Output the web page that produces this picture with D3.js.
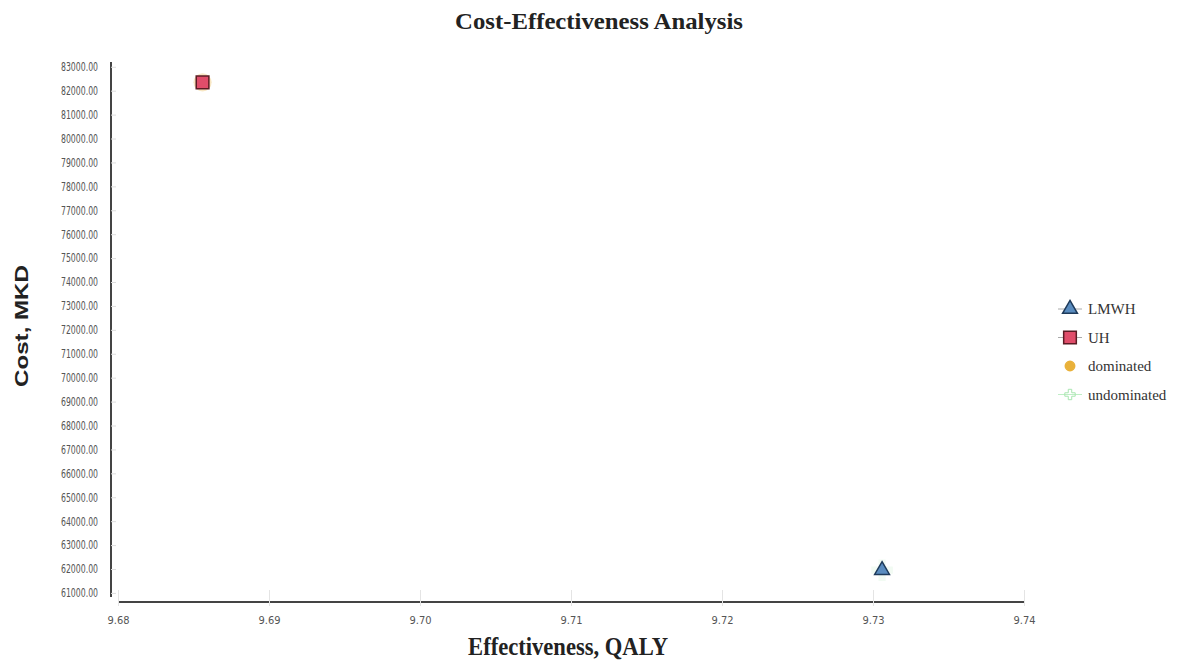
<!DOCTYPE html>
<html lang="en">
<head>
    <meta charset="UTF-8">
    <title>Cost-Effectiveness Analysis</title>
    <style>
        body { margin: 0; background: #fff; }
        .tick text { font-family: "Liberation Sans Narrow", "DejaVu Sans Condensed", "Liberation Sans", sans-serif; }
    </style>
</head>
<body>
    <div id="chart"></div>
    <script src="https://cdnjs.cloudflare.com/ajax/libs/d3/7.8.5/d3.min.js"></script>
    <script>
        // strategies
        const strategies = ["LMWH", "UH"];
        const effectiveness = [9.7306, 9.6856];
        const cost = [61950, 82350];
        // frontier status of each strategy
        const status = ["undominated", "dominated"];
        const legendItems = ["LMWH", "UH", "dominated", "undominated"];
        const xTicks = [9.68, 9.69, 9.70, 9.71, 9.72, 9.73, 9.74];
        const yTicks = d3.range(61000, 83001, 1000);

        const width = 1181, height = 666;
        const svg = d3.select('#chart')
            .append('svg')
            .attr('width', width)
            .attr('height', height);

        const x = d3.scaleLinear().domain([9.68, 9.74]).range([118, 1024]);
        const y = d3.scaleLinear().domain([60620, 83200]).range([602, 62]);

        // titles are squeezed/stretched to the width they have in the source picture
        function titleText(px, py, rot, len, size, family, label) {
            const g = svg.append('g').attr('transform', `translate(${px},${py}) rotate(${rot})`);
            const t = g.append('text')
                .attr('font-family', family)
                .attr('font-weight', 'bold')
                .attr('font-size', size)
                .attr('fill', '#222')
                .attr('text-anchor', 'middle')
                .text(label);
            const w = t.node().getComputedTextLength();
            t.attr('transform', `scale(${len / w},1)`);
        }

        titleText(599, 29, 0, 288, 24, 'Liberation Serif, serif', 'Cost-Effectiveness Analysis');

        // y axis
        const yAxis = svg.append('g')
            .attr('transform', 'translate(111,0)')
            .call(d3.axisRight(y).tickValues(yTicks).tickSize(5).tickFormat(d3.format('.2f')));
        yAxis.select('.domain').attr('stroke', '#444').attr('stroke-width', 2)
            .attr('d', `M0,${y.range()[1]}V${y.range()[0] - 5}`);
        yAxis.selectAll('.tick line').attr('stroke', '#ddd');
        yAxis.selectAll('.tick text')
            .attr('x', -13).attr('text-anchor', 'end')
            .attr('font-size', 12).attr('fill', '#555')
            .attr('textLength', 37).attr('lengthAdjust', 'spacingAndGlyphs');

        // x axis
        const xAxis = svg.append('g')
            .attr('transform', 'translate(0,602)')
            .call(d3.axisBottom(x).tickValues(xTicks).tickSize(6).tickFormat(d3.format('.2f')));
        xAxis.select('.domain').attr('stroke', '#444').attr('stroke-width', 2)
            .attr('d', `M${x.range()[0]},0H${x.range()[1]}`);
        xAxis.selectAll('.tick line').attr('stroke', '#e4e4e4').attr('y1', -12).attr('y2', 4);
        xAxis.selectAll('.tick text')
            .attr('y', 14).attr('font-size', 11).attr('fill', '#555');

        // axis titles
        titleText(568, 655, 0, 200, 25, 'Liberation Serif, serif', 'Effectiveness, QALY');
        titleText(28, 326, -90, 122, 19, 'Liberation Sans, sans-serif', 'Cost, MKD');

        const symbols = {
            LMWH: d3.symbol().type(d3.symbolTriangle).size(95),
            UH: d3.symbol().type(d3.symbolSquare).size(160),
            dominated: d3.symbol().type(d3.symbolCircle).size(70),
            undominated: d3.symbol().type(d3.symbolCross).size(60)
        };
        const fills = { LMWH: '#5a8cbf', UH: '#e04d6a', dominated: '#e9b13a', undominated: '#a8e6b0' };
        const strokes = { LMWH: '#1e3a5a', UH: '#5a1c24', dominated: '#e9b13a', undominated: '#a8e6b0' };

        const points = strategies.map((s, i) => ({ name: s, x: effectiveness[i], y: cost[i], status: status[i] }));

        // status markers sit behind the strategy markers
        svg.append('g').selectAll('path')
            .data(points)
            .join('path')
            .attr('transform', d => `translate(${x(d.x)},${y(d.y)})`)
            .attr('d', d => d3.symbol().type(d.status === 'dominated' ? d3.symbolCircle : d3.symbolCross).size(260)())
            .attr('fill', d => fills[d.status])
            .attr('opacity', d => d.status === 'dominated' ? 0.3 : 0.15);

        svg.append('g').selectAll('path')
            .data(points)
            .join('path')
            .attr('transform', d => `translate(${x(d.x)},${y(d.y)})`)
            .attr('d', d => symbols[d.name]())
            .attr('fill', d => fills[d.name])
            .attr('stroke', d => strokes[d.name])
            .attr('stroke-width', 1.5);

        // legend
        const legend = svg.append('g').attr('transform', 'translate(1058,309)');
        const item = legend.selectAll('g')
            .data(legendItems)
            .join('g')
            .attr('transform', (d, i) => `translate(0,${i * 28.5})`);
        item.append('line')
            .attr('x1', 0).attr('x2', 24).attr('y1', 0).attr('y2', 0)
            .attr('stroke', d => d === 'undominated' ? '#bfeec6' : '#aaa')
            .attr('stroke-width', 1)
            .attr('display', d => d === 'dominated' ? 'none' : null);
        item.append('path')
            .attr('transform', 'translate(12,0)')
            .attr('d', d => symbols[d]())
            .attr('fill', d => d === 'undominated' ? 'none' : fills[d])
            .attr('stroke', d => strokes[d])
            .attr('stroke-width', d => d === 'undominated' ? 1 : 1.5);
        item.append('text')
            .attr('x', 30).attr('y', 5)
            .attr('font-family', 'Liberation Serif, serif')
            .attr('font-size', 15)
            .attr('fill', '#333')
            .text(d => d);
    </script>
</body>
</html>
